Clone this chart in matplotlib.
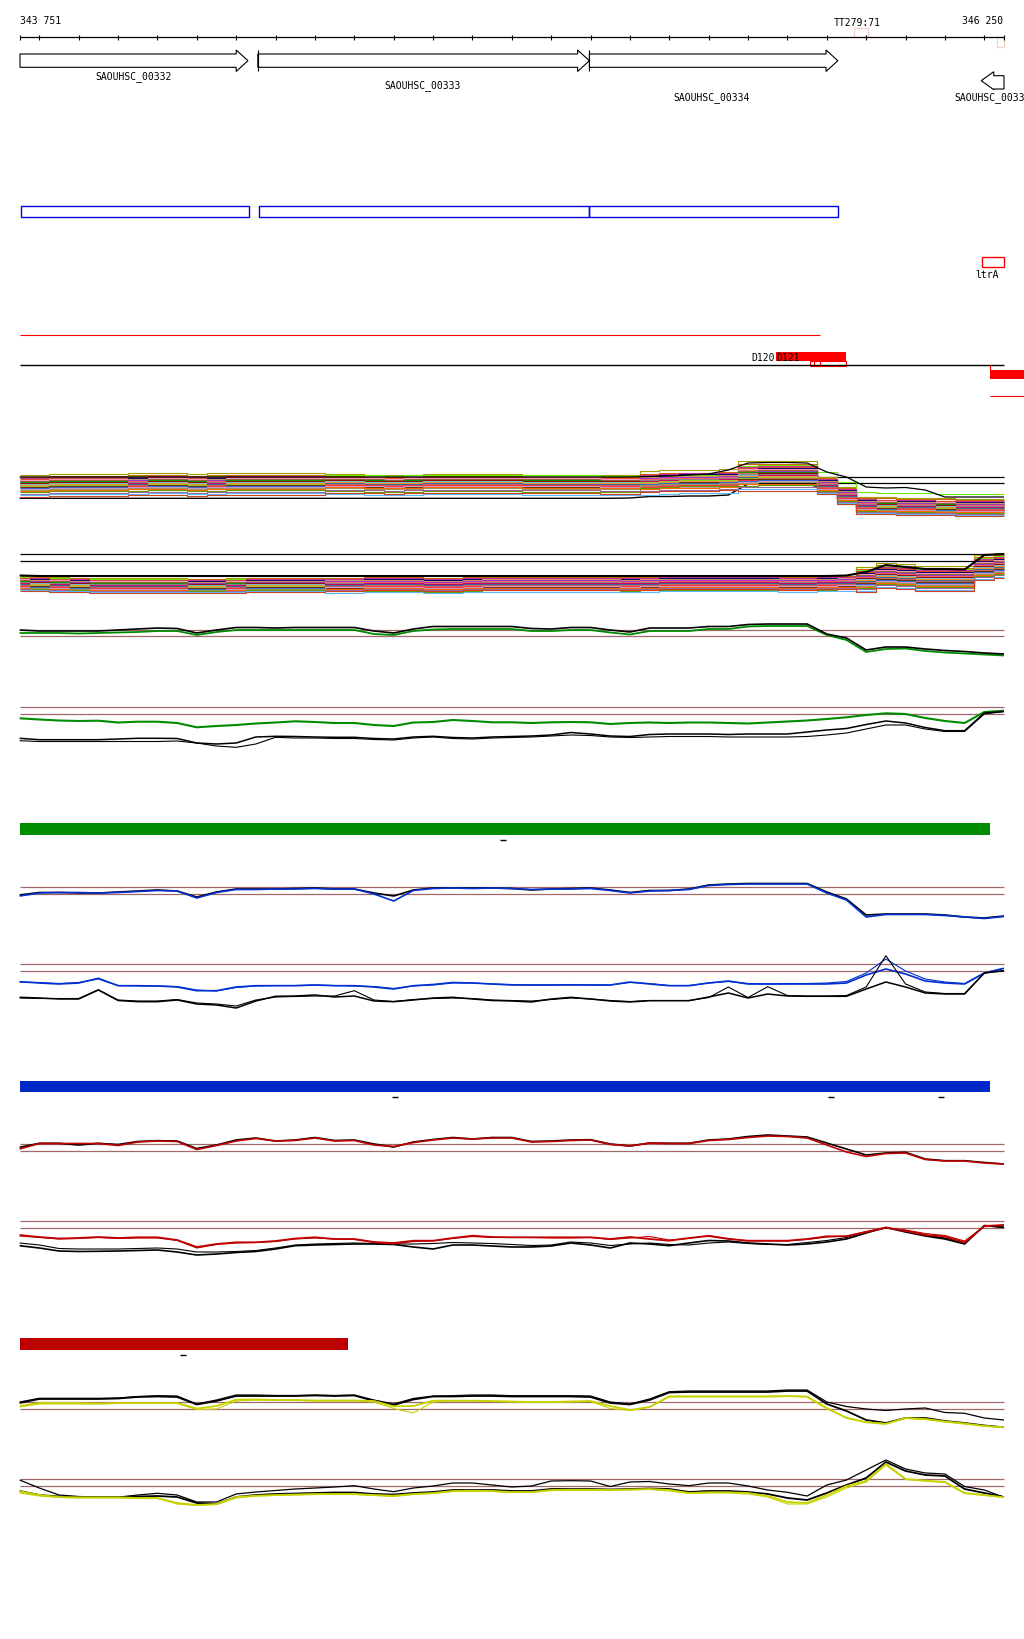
import matplotlib
matplotlib.use('Agg')
import matplotlib.pyplot as plt
from matplotlib.patches import Rectangle, Polygon

plt.rcParams['font.family'] = ['DejaVu Sans Mono']
plt.rcParams['lines.solid_capstyle'] = 'butt'

W, H = 1024, 1640
XMIN, XMAX = 343700.2, 346300.8
VIEW_START, VIEW_END = 343751, 346250

# ---------------- annotation data ----------------
RULER_TICKS = [VIEW_START] + list(range(343800, 346201, 100)) + [VIEW_END]
GENE_NAMES = ['SAOUHSC_00332', 'SAOUHSC_00333', 'SAOUHSC_00334', 'SAOUHSC_00335']
GENE_START = [343751, 344355, 345197, 346192]
GENE_END = [344330, 345197, 345828, 346250]
GENE_STRAND = ['+', '+', '+', '-']
GENE_LABEL_X = [344040, 344773, 345508, 346220]
GENE_LABEL_ROW = [76.5, 85.5, 97.5, 97.5]

CDS_START = [343753, 344358, 345197]
CDS_END = [344333, 345197, 345828]

TERM_NAME = 'TT279:71'
TERM_POS = (345868, 345904)

SRNA_NAME = 'ltrA'
SRNA_POS = (346193, 346250)

RED_SEG = (343751, 345783)
D120_LABEL_X = 345667
D121_POS = (345670, 345850)
D121_SUB = (345757, 345850)
D121_SMALL = (345767, 345783)
RIGHT_RED = 346214

BAR_GREEN = (343751, 346214)
BAR_BLUE = (343751, 346214)
BAR_RED = (343751, 344584)
DASH_GREEN = [344978]
DASH_BLUE = [344703, 345811, 346090]
DASH_RED = [344165]

# ---------------- track data (x every 50 bp) ----------------
POS = list(range(343750, 346251, 50))

A_MID = [39, 39, 40, 40, 40, 40, 40.5, 41, 41, 40,
         40.5, 41, 41, 41, 41, 41, 41, 41, 40.5, 40,
         40.5, 41, 41, 41, 41, 41, 40.5, 40.5, 40.5, 40.5,
         40, 40, 42, 43, 43.5, 43.5, 44, 48, 48.5, 48.5,
         48.5, 40, 30, 20, 19.5, 19, 19, 18.5, 18, 18, 18]
A_REGION = [0] * 16 + [1] * 16 + [2] * 5 + [3] * 4 + [4] * 10
A_OFF_L1 = [10.5, 8.5, 7.5, 7, 6, 5.5, 5, 4.5, 4, 3.5, 3, 2.5, 2, 1.5, 1,
            0.5, 0, -0.5, -1, -1.5, -2, -2.5, -3, -3.5, -4.5, -5.5, -7, -8.5, -10, -11.5]
A_OFF_L2 = [9, 7, 8.5, 5.5, 6.5, 4, 5.5, 3, 4.5, 2.5, 3.5, 1.5, 3, 0.5, 2,
            -0.5, 1, 0, -2, -1, -3, -1.5, -4, -2.5, -5, -4, -8, -6.5, -11, -9.5]
A_OFF_M = [11, 8, 6, 7.5, 5, 6.5, 3.5, 5, 2.5, 4, 1.5, 3, 0, 2, -1,
           1, -0.5, -2.5, 0.5, -3.5, -1.5, -4.5, -2, -6, -3, -7, -5.5, -9, -12.5, -10]
A_OFF_P = [15, 12, 10.5, 9.5, 8.5, 7.5, 7, 6, 5.5, 4.5, 4, 3, 2.5, 2, 1,
           0.5, 0, -1, -1.5, -2.5, -3, -4, -4.5, -5.5, -6.5, -8, -9.5, -11, -13, -15]
A_OFF_R = [7.5, 6.5, 12, 5, 4.5, 4, 3.5, 3, 2.5, 2, 1.5, 1, 0.5, 0, -0.5,
           -1, -1.5, -2, -2.5, -3, -3.5, -4, -4.5, -5, -5.5, -6, -7, -7.5, -8.5, -9.5]
A_BLACK = [25.7] * 10 + [25.7] * 10 + [25.7] * 10 + \
          [25.7, 26, 27.5, 27.5, 28, 28, 29, 40, 40, 40,
           40, 35, 25, 18, 18, 18, 18, 18, 18, 18, 18]
A_BLACK2 = [47, 47, 47, 47, 47, 47, 47, 47, 47, 47,
            47, 47, 47, 47, 47, 47, 47, 47, 47, 47,
            47, 47, 47, 47, 47, 47, 47, 47, 47, 47,
            47, 47, 47.5, 48, 49, 50, 54, 61, 61.5, 61.5,
            61, 52, 47, 37, 36, 36.5, 34, 27, 27, 27, 27]
A_REFS = [46.7, 40.7]

B_MID = [17.5, 17, 16.5, 16, 15.5, 15.5, 15.5, 15.5, 15.5, 15,
         15, 15.5, 16, 16, 16, 16, 16, 16, 16.5, 16.5,
         16.5, 15.5, 15.5, 16.5, 17, 17, 17, 17, 17, 17,
         17, 16.5, 17, 17.5, 17.5, 17.5, 17.5, 17.5, 17.5, 17,
         17, 17.5, 18, 20, 24, 23, 21, 21, 21, 32, 34]
B_REGION = [0] * 16 + [1] * 27 + [2] * 8
B_OFF_L1 = [5.5, 5, 4.5, 4, 3.5, 3, 2.5, 2, 1.5, 1, 0.5, 0, 0, -0.5, -1,
            -1.5, -2, -2.5, -3, -3.5, -4, -4.5, -5, -5.5, -6, -6.5, -7, -7.5, -8, -9]
B_OFF_L2 = [4.5, 5.5, 3.5, 4.5, 2.5, 3.5, 1.5, 3, 0.5, 2, -0.5, 1, -1, 0, -2,
            -0.5, -3, -1.5, -4, -2.5, -5, -3.5, -6, -4, -7, -5.5, -8, -6.5, -9.5, -7.5]
B_OFF_R = [12, 10.5, 9, 8, 7, 6, 5, 4.5, 4, 3, 2.5, 2, 1, 0.5, 0,
           -0.5, -1, -2, -2.5, -3, -4, -4.5, -5, -6, -7, -8, -9, -10, -11.5, -13]
B_BLACK = [23.5] + [23] * 41 + [23.5, 27, 34, 32, 30, 30, 29.5, 44, 45]
B_REFS = [45, 37.7]

PALETTE = ['#a0a000', '#cc6600', '#66ee00', '#cc3399', '#e0502d', '#000066',
           '#ff99cc', '#cc9966', '#996633', '#9933cc', '#009900', '#ff6666',
           '#990000', '#888888', '#66cccc', '#cc0066', '#ff9933', '#336699',
           '#99cc33', '#cc6666', '#663300', '#ff3333', '#3366cc', '#cc99cc',
           '#999966', '#ff6600', '#669900', '#996699', '#5cb8ff', '#cc4422']

C_BLACK = [34, 33, 33, 33, 33, 34, 35, 36, 35.5, 31,
           34, 36.5, 36.5, 36, 36.5, 36.5, 36.5, 36.5, 33, 31,
           35, 37.5, 37.5, 37.5, 37.5, 37.5, 35.5, 35, 36.5, 36.5,
           34, 32, 36, 36, 36, 37.5, 37.5, 39.5, 40, 40,
           40, 30, 26, 14, 17, 17, 15, 13.5, 12.5, 11, 10]
C_GREEN = [31, 31, 31, 30.5, 31, 31.5, 32, 33, 33, 29,
           32, 34, 34, 34, 34, 34, 34, 34, 30, 29,
           33, 34.5, 35, 35, 35, 35, 33, 33, 34, 34,
           31.5, 29.5, 33, 33, 33, 35, 35, 37.5, 38, 38,
           38, 29, 24, 12, 15, 15.5, 13, 11.5, 10.5, 9.5, 8.5]
C_REFS = [34.3, 27.7]

D_GREEN = [35.7, 34.5, 33.5, 33, 33.3, 31.5, 32.3, 32.3, 31, 26.7,
           28, 29, 30.5, 31.5, 32.7, 32, 31, 31, 29, 28,
           31.5, 32, 34, 33, 31.7, 31.7, 31, 31.7, 32, 31.7,
           30, 31, 31.5, 31, 31.5, 31.5, 31, 30.5, 31.5, 32.5,
           33.5, 35, 36.7, 39, 40.7, 40, 36, 33, 31, 42, 43.3]
D_BLACK = [15.7, 14.3, 14.3, 14.3, 14.3, 15, 15.7, 15.7, 15.5, 11,
           10, 11, 17, 17.7, 17.5, 17, 16.7, 16.7, 15.5, 15,
           17, 17.7, 16.5, 16, 17, 17.5, 18, 19, 21.5, 20,
           18, 17.5, 19.5, 20, 20, 20, 19.5, 20, 20, 20,
           22, 24, 25.5, 29.5, 33, 31, 26.5, 23.3, 23.3, 41, 42.5]
D_BLACK2 = [13.3, 12.5, 12.5, 12.5, 12.5, 12.5, 12.5, 12.5, 13, 11,
            8, 6.7, 10, 16.7, 16, 16, 15.5, 15.5, 14.5, 14,
            16, 17, 15.5, 15, 16, 16.5, 17, 18, 19, 18.5,
            17, 16.5, 17, 17.5, 17.5, 17.5, 17, 17, 17, 17,
            17.5, 19, 21, 25, 29, 29, 25, 22.5, 22.5, 40, 42.5]
D_REFS = [47, 39.7]

E_BLACK = [34, 36.5, 36.5, 36, 36, 37, 38, 39, 38, 32,
           37, 40, 40, 40, 40.5, 41, 40, 40, 36, 33,
           39, 41, 41, 41, 41, 40.5, 39, 40, 40.5, 41,
           39, 36.5, 38.5, 38.5, 40, 44, 45, 45.5, 45.5, 45.5,
           45.5, 37, 30, 14, 15, 15, 15, 14, 12, 11, 13]
E_BLUE = [33, 36, 36.5, 36.5, 36, 36.5, 37.5, 38.5, 38, 31,
          36.5, 39.5, 39.5, 40, 40, 40.5, 40, 40, 35, 28,
          38.5, 40.5, 41, 40.5, 41, 40.5, 39.5, 40, 40, 40.5,
          38.5, 36, 38, 38.5, 39.5, 43.5, 44.5, 45, 45, 45,
          45, 36, 29, 12, 14.5, 14.5, 14.5, 13.5, 12, 10.5, 12.5]
E_REFS = [41.7, 35]

F_BLUE = [27.3, 26, 25, 26, 30.7, 23.3, 23.3, 23, 22, 18.3,
          18.3, 22, 23.3, 23.3, 23.3, 24, 23.3, 23.3, 22, 20,
          23.3, 24.5, 26.5, 26, 25, 24, 24, 24, 24, 24,
          24, 27, 25, 23.3, 23.3, 26, 28, 25, 25, 25,
          25, 25, 26, 34, 40, 35, 28, 26, 25, 36, 40.7]
F_BLUE2 = [27, 26.5, 25.5, 26.5, 30, 23.5, 23, 23, 22.5, 19,
           18, 21.5, 23, 23.5, 23.5, 24, 23.5, 23, 22.5, 20.5,
           23, 24, 26, 26, 25, 24.5, 24, 24, 24.5, 24,
           24, 26.5, 25.5, 23.5, 23.5, 26, 27.5, 25.5, 25, 25.5,
           25.5, 26, 27.5, 36, 50, 38, 30, 27, 25.5, 36, 40.7]
F_BLACK = [11.7, 11, 10, 10, 19, 8.5, 7.3, 7.3, 9, 5,
           4, 1, 8, 12.7, 13, 14, 12, 13, 8, 7.3,
           9, 11, 11.7, 10, 8.5, 8, 7, 10, 11.7, 10,
           8, 7, 8.3, 8.3, 8.3, 12, 16, 11, 15, 13,
           12.7, 12.7, 12.7, 20, 27, 22, 16, 15, 15, 36, 38.3]
F_BLACK2 = [11, 10.5, 10.5, 10.5, 19.3, 9, 8, 8, 9.5, 6,
            5, 3, 9, 12, 12.5, 13, 13, 18.3, 9, 7.5,
            9.5, 10.5, 11, 10.5, 9, 8.5, 8, 9.5, 11, 10,
            8.5, 7.5, 8.5, 8.5, 8.5, 11.5, 22, 11.5, 22.3, 13.5,
            13, 13, 13.5, 22, 53.3, 25, 17, 15.5, 15.5, 36, 38.3]
F_REFS = [44.7, 37.7]

G_BLACK = [26.7, 30.7, 30.7, 29, 30.7, 29.5, 32.5, 33.3, 33, 25.5,
           29, 34, 36, 33, 34, 36.5, 33.5, 34, 30, 27,
           32, 34.5, 36.5, 35, 36.5, 36.5, 32.5, 33, 34, 34.3,
           30, 28, 31, 30.7, 30.7, 34, 35, 37.5, 39, 38,
           37, 31, 25, 19, 21, 21.7, 15, 13.3, 13.3, 11.5, 10]
G_RED = [25, 30.5, 30.5, 30.5, 30.5, 28.5, 32, 33, 32.5, 24.5,
         28.5, 33, 35.5, 33, 33.5, 36, 33, 33.5, 29, 27.5,
         31.5, 34, 36, 35, 36, 36, 32, 32.5, 33.5, 34,
         29.5, 28, 31, 30.5, 30.5, 33.5, 34.5, 36.5, 38, 37.5,
         36, 29, 22, 17.5, 20.5, 21, 14.5, 13, 13, 11, 10]
G_REFS = [29.7, 22.7]

H_RED = [29, 27, 25.5, 26, 27, 26, 26.7, 26.7, 24, 17,
         20, 21.7, 21.7, 23, 25.5, 26.7, 25, 25, 22, 21,
         23.3, 23.3, 26, 28.3, 27, 26.7, 26.7, 26.7, 26.7, 26.7,
         25, 27, 25, 23.3, 26, 28, 25, 23.3, 23.3, 23.3,
         25, 27.7, 27.7, 32, 36.5, 33, 29, 27.5, 21.5, 38, 39]
H_RED2 = [28, 26.5, 25, 25.5, 26.5, 25.5, 26, 26, 23.5, 16,
          19.5, 21, 21.5, 22.5, 25, 26, 25, 24.5, 21.5, 20,
          22.5, 23, 25.5, 27.5, 26.5, 26.5, 26.5, 26, 26, 26.5,
          24.5, 26, 27.5, 24, 25.5, 28.5, 25.5, 23, 23, 23,
          24.5, 27, 28, 32.5, 36, 34, 30.5, 28.5, 23, 37.5, 39]
H_BLACK = [18.3, 16, 13, 12.5, 12.7, 13, 13.5, 14, 12, 9,
           10, 11.5, 12.5, 15, 18.3, 19, 19.5, 20, 20, 19.5,
           17, 15, 19, 19, 18, 17, 17, 18, 21, 19,
           16, 21, 20, 18.3, 21, 23.5, 23, 21, 20, 19,
           20, 22, 25, 31, 36.5, 32, 28, 25, 20, 38.5, 36.7]
H_BLACK2 = [21, 19, 15.5, 15, 15, 15, 15.5, 16, 15, 12,
            12, 12.5, 13.5, 16, 19, 20, 20.5, 21, 20.5, 20,
            20, 20.5, 21.5, 21, 20.5, 19.5, 18.5, 19, 22, 21,
            18.5, 20, 21, 19.5, 19, 21, 22, 20.5, 19.5, 19.5,
            21.5, 23.5, 26.5, 32, 36, 33.5, 29, 26, 21, 38, 36.7]
H_REFS = [42.7, 35.7]

I_BLACK = [32, 35.7, 35.7, 35.7, 35.7, 36, 37.5, 38.3, 38, 30,
           34, 39, 39, 38.5, 38.5, 39, 38.5, 39, 34, 30,
           35.5, 38, 38.3, 39, 39, 38.3, 38.3, 38.3, 38.3, 38,
           32, 30, 35, 42.3, 43, 43, 43, 43, 43, 44,
           44, 32, 27.5, 25, 23.5, 25, 26, 21.5, 20.7, 16, 14]
I_BLACK2 = [31, 35, 35, 35, 35, 35.5, 37, 37.5, 37, 29.5,
            33, 38, 38, 38, 38, 38.5, 38, 38.5, 33, 29,
            34.5, 37.5, 37.5, 38, 38, 37.5, 37.5, 37.5, 37.5, 37,
            31, 29.5, 34, 41.5, 42, 42, 42, 42, 42, 43,
            43, 30, 23, 14, 11, 16, 16, 13, 11, 8.5, 6.7]
I_YELLOW = [28, 31, 31, 31, 30.5, 31, 31, 31, 31, 25.5,
            28, 34.3, 34.5, 34, 34, 33.5, 33.5, 33.5, 33, 27.7,
            28, 33.3, 33.3, 33.3, 33, 32.5, 32, 32, 32.5, 33,
            28, 24, 27, 37.7, 37.7, 37.7, 37.7, 37.7, 37.7, 38,
            37.5, 26, 16, 11.7, 10, 16, 15, 12.5, 10.5, 8, 6.7]
I_YELLOW2 = [27, 30, 30, 30, 30, 30.5, 30.5, 30.5, 30.5, 24.5,
             25, 33, 34, 33.5, 33.5, 33, 33, 33, 32, 25.5,
             21, 32, 33, 33, 32.5, 32, 31.5, 31.5, 32, 32.5,
             25.5, 23.5, 27, 37, 37, 37, 37, 37, 37, 37.5,
             37, 25, 16.5, 12, 10.5, 15.5, 14.5, 12, 10, 8, 6.7]
I_REFS = [31.7, 24.7]

J_BLACK = [29, 21, 14, 12.5, 12, 11.7, 14, 15.7, 14, 7,
           7, 15, 17, 18.5, 20, 21, 22, 23.3, 20, 17.3,
           21, 23, 26, 26, 24, 22, 23, 28, 28.3, 28,
           22.5, 27, 27.5, 25, 23.3, 26, 26, 23, 19, 16.7,
           13, 24, 29, 39, 49, 40, 36, 35, 22.5, 19, 11.7]
J_BLACK2 = [18, 14, 12.5, 12, 12, 12, 12.5, 13, 12, 6,
            5, 12, 14, 15, 15.5, 16, 16.5, 16.5, 15, 14.5,
            16, 17, 19, 19, 19, 18, 18, 20, 20, 20,
            19.5, 20, 20.5, 20, 17, 18, 18, 17, 15, 11,
            9, 16, 24, 31, 47, 38, 34, 33, 20, 16, 12]
J_YELLOW = [17.7, 14, 12, 11.7, 11.7, 11.7, 11, 11, 6, 4,
            5, 12, 13.3, 14, 14.5, 15, 15, 15, 14, 13.3,
            15, 16, 18, 18.3, 18, 17, 17, 19, 19.3, 19.3,
            19, 19.5, 20, 19, 16, 16.7, 16.7, 16, 13, 7,
            6, 14, 23, 28, 45, 30, 28.3, 27, 16, 14, 11.7]
J_YELLOW2 = [16, 13, 11.5, 11, 11, 11, 10.5, 10.5, 5, 3.5,
             4.5, 11, 13, 13.5, 14, 14.5, 14.5, 14.5, 13.5, 12.5,
             14.5, 15.5, 17.5, 17.5, 17.5, 16.5, 16.5, 18.5, 18.5, 18.5,
             18.5, 19, 19.5, 18, 15.5, 16, 16, 15, 12, 5,
             5, 12, 21, 27, 44, 29.5, 28, 26.5, 15.5, 13.5, 11.7]
J_REFS = [29.7, 22.7]

# ---------------- styles ----------------
REF_BROWN = '#a06868'
GREEN = '#008c00'
BLUE = '#0030d0'
RED = '#c00000'
YELLOW = '#c8d200'
FS = 7

fig = plt.figure(figsize=(W / 100, H / 100), dpi=100)
fig.patch.set_facecolor('white')

ax0 = fig.add_axes([0, 0, 1, 1])
ax0.set_xlim(XMIN, XMAX)
ax0.set_ylim(H, 0)
ax0.axis('off')

px = (XMAX - XMIN) / W  # bp per pixel

# ruler
ax0.hlines(38, VIEW_START, VIEW_END, color='black', lw=0.9)
ax0.vlines(RULER_TICKS, 35.5, 40.5, color='black', lw=0.8)
ax0.text(VIEW_START, 20.5, '343 751', fontsize=FS, ha='left', va='center')
ax0.text(VIEW_END - 1 * px, 20.5, '346 250', fontsize=FS, ha='right', va='center')
ax0.text(sum(TERM_POS) / 2 - 3 * px, 23.3, TERM_NAME, fontsize=FS, ha='center', va='center')
ax0.add_patch(Rectangle((TERM_POS[0], 29.3), TERM_POS[1] - TERM_POS[0], 9,
                        fill=False, ec='#f6d2c8', lw=0.9))
ax0.add_patch(Rectangle((346232, 38.3), 17, 9.7, fill=False, ec='#f6d2c8', lw=0.9))

# genes
HL = 30
for name, s, e, st, lx, ly in zip(GENE_NAMES, GENE_START, GENE_END, GENE_STRAND,
                                  GENE_LABEL_X, GENE_LABEL_ROW):
    if st == '+':
        pts = [(s, 55), (e - HL, 55), (e - HL, 51), (e, 61.7), (e - HL, 72.5),
               (e - HL, 68.3), (s, 68.3)]
    else:
        pts = [(s, 81.7), (s + 32, 72.7), (s + 32, 76.7), (e, 76.7), (e, 90),
               (s + 32, 90), (s + 32, 90.7)]
    ax0.add_patch(Polygon(pts, closed=True, fc='white', ec='black', lw=0.8))
    ax0.text(lx, ly, name, fontsize=FS, ha='center', va='center', clip_on=False)
for s in GENE_START[1:3]:
    ax0.vlines(s, 50.7, 71.7, color='black', lw=0.8)

# CDS boxes
for s, e in zip(CDS_START, CDS_END):
    ax0.add_patch(Rectangle((s, 207.3), e - s, 10.3, fill=False, ec='#0000e0', lw=1.0))

# sRNA
ax0.add_patch(Rectangle((SRNA_POS[0], 258.3), SRNA_POS[1] - SRNA_POS[0], 10,
                        fill=False, ec='red', lw=1.0))
ax0.text(346207, 275.5, SRNA_NAME, fontsize=FS, ha='center', va='center')

# red / black lines and D120/D121
ax0.hlines(336, RED_SEG[0], RED_SEG[1], color='red', lw=0.8)
ax0.hlines(366, VIEW_START, VIEW_END, color='black', lw=1.0)
ax0.add_patch(Rectangle((D121_POS[0], 353), D121_POS[1] - D121_POS[0], 8.7,
                        fc='red', ec='red', lw=0))
ax0.add_patch(Rectangle((D121_SUB[0], 361.7), D121_SUB[1] - D121_SUB[0], 4.8,
                        fill=False, ec='red', lw=0.8))
ax0.add_patch(Rectangle((D121_SMALL[0], 362), D121_SMALL[1] - D121_SMALL[0], 5,
                        fill=False, ec='red', lw=0.8))
ax0.text(D120_LABEL_X, 358, 'D120', fontsize=FS, ha='right', va='center')
ax0.text(D121_POS[0] + 1 * px, 358, 'D121', fontsize=FS, ha='left', va='center')
ax0.vlines(RIGHT_RED, 366, 372, color='red', lw=0.8)
ax0.add_patch(Rectangle((RIGHT_RED, 371), XMAX - RIGHT_RED, 9, fc='red', ec='red', lw=0))
ax0.hlines(397.3, RIGHT_RED, XMAX, color='red', lw=0.8)

# bars
for (s, e), y0, h, c, dashes in [(BAR_GREEN, 824, 11.7, GREEN, DASH_GREEN),
                                 (BAR_BLUE, 1081.7, 11, '#0028c8', DASH_BLUE),
                                 (BAR_RED, 1339, 11.7, '#bc0000', DASH_RED)]:
    ax0.add_patch(Rectangle((s, y0), e - s, h, fc=c, ec=c, lw=0))
    ax0.hlines([y0 + h + 5.5] * len(dashes), [d - 3 * px for d in dashes],
               [d + 3 * px for d in dashes], color='black', lw=1.0)


def panel(top, bottom):
    ax = fig.add_axes([0, 1 - bottom / H, 1, (bottom - top) / H])
    ax.set_xlim(XMIN, XMAX)
    ax.set_ylim(0, bottom - top)
    ax.axis('off')
    ax.patch.set_alpha(0)
    return ax


def refs(ax, vals, color):
    for r in vals:
        ax.hlines(r, VIEW_START, VIEW_END, color=color, lw=0.9, zorder=1)


# panel A
axA = panel(450, 525)
refs(axA, A_REFS, 'black')
axA.plot(POS, A_BLACK, color='black', lw=1.0, zorder=2)
offA = [A_OFF_L1, A_OFF_L2, A_OFF_M, A_OFF_P, A_OFF_R]
for k, col in enumerate(PALETTE):
    vals = [m + offA[r][k] for m, r in zip(A_MID, A_REGION)]
    axA.plot(POS, vals, color=col, lw=0.8, zorder=3, drawstyle='steps-mid')
axA.plot(POS, A_BLACK2, color='black', lw=0.9, zorder=4)

# panel B
axB = panel(545, 600)
refs(axB, B_REFS, 'black')
offB = [B_OFF_L1, B_OFF_L2, B_OFF_R]
for k, col in enumerate(PALETTE):
    vals = [m + offB[r][k] for m, r in zip(B_MID, B_REGION)]
    axB.plot(POS, vals, color=col, lw=0.8, zorder=3, drawstyle='steps-mid')
axB.plot(POS, B_BLACK, color='black', lw=1.5, zorder=4)

# paired panels
PANELS = [
    (615, 665, C_REFS, [(C_GREEN, GREEN, 1.3), (C_BLACK, 'black', 1.2)]),
    (700, 755, D_REFS, [(D_GREEN, GREEN, 1.5), (D_BLACK, 'black', 1.1), (D_BLACK2, 'black', 0.8)]),
    (875, 930, E_REFS, [(E_BLACK, 'black', 1.2), (E_BLUE, BLUE, 1.2)]),
    (945, 1010, F_REFS, [(F_BLUE, BLUE, 1.2), (F_BLUE2, BLUE, 0.8),
                         (F_BLACK, 'black', 1.1), (F_BLACK2, 'black', 0.8)]),
    (1125, 1175, G_REFS, [(G_BLACK, 'black', 1.2), (G_RED, RED, 1.2)]),
    (1210, 1265, H_REFS, [(H_BLACK, 'black', 1.2), (H_BLACK2, 'black', 0.8),
                          (H_RED, RED, 1.3), (H_RED2, RED, 0.8)]),
    (1380, 1435, I_REFS, [(I_BLACK, 'black', 0.9), (I_BLACK2, 'black', 1.3),
                          (I_YELLOW, YELLOW, 1.3), (I_YELLOW2, YELLOW, 0.8)]),
    (1450, 1510, J_REFS, [(J_BLACK, 'black', 0.9), (J_BLACK2, 'black', 1.3),
                          (J_YELLOW, YELLOW, 1.3), (J_YELLOW2, YELLOW, 0.8)]),
]
for top, bottom, rv, series in PANELS:
    ax = panel(top, bottom)
    refs(ax, rv, REF_BROWN)
    for vals, col, lw in series:
        ax.plot(POS, vals, color=col, lw=lw, zorder=3)

fig.savefig('out.png', dpi=100, facecolor='white')
